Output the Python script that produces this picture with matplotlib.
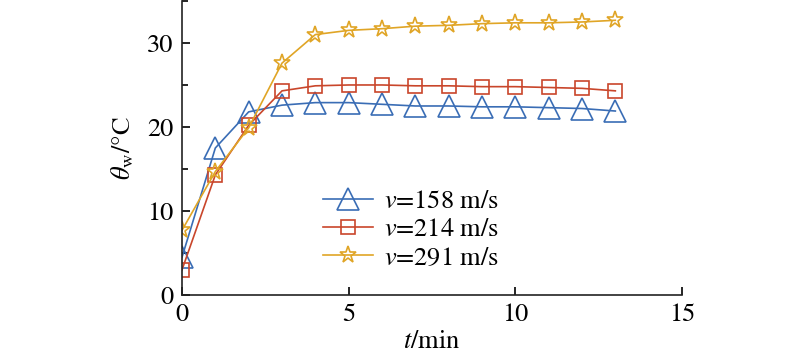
import matplotlib.pyplot as plt
from matplotlib.ticker import MultipleLocator

plt.rcParams['font.family'] = ['STIXGeneral', 'DejaVu Serif']
plt.rcParams['mathtext.fontset'] = 'stix'

# time in minutes
t_min = [0, 1, 2, 3, 4, 5, 6, 7, 8, 9, 10, 11, 12, 13]

# wall temperature for each airflow speed
theta_158 = [4.5, 17.5, 21.8, 22.6, 22.9, 22.9, 22.7, 22.5, 22.5, 22.4, 22.4, 22.3, 22.2, 21.9]
theta_214 = [3.0, 14.3, 20.2, 24.3, 24.9, 25.0, 25.0, 24.9, 24.9, 24.8, 24.8, 24.7, 24.6, 24.3]
theta_291 = [7.7, 14.7, 19.9, 27.6, 31.0, 31.5, 31.7, 32.0, 32.1, 32.3, 32.4, 32.4, 32.5, 32.7]

labels = ["$v$=158 m/s", "$v$=214 m/s", "$v$=291 m/s"]

fig = plt.figure(figsize=(8, 3.56), dpi=100)
ax = fig.add_axes([0.2275, 0.1713, 0.625, 0.826])

ax.plot(t_min, theta_158, color="#3a6db5", marker="^", markersize=15.5, mfc="none",
        mew=1.2, lw=1.2, label=labels[0])
ax.plot(t_min, theta_214, color="#c9462b", marker="s", markersize=10, mfc="none",
        mew=1.2, lw=1.2, label=labels[1])
ax.plot(t_min, theta_291, color="#e0a526", marker="*", markersize=12.5, mfc="none",
        mew=1.2, lw=1.2, label=labels[2])

ax.set_xlim(0, 15)
ax.set_ylim(0, 35)
ax.xaxis.set_major_locator(MultipleLocator(5))
ax.yaxis.set_major_locator(MultipleLocator(10))
ax.yaxis.set_minor_locator(MultipleLocator(5))
ax.tick_params(direction="in", labelsize=19, length=6, width=1.2, pad=6)
ax.tick_params(which="minor", direction="in", length=4, width=1.2)
ax.tick_params(axis="x", pad=6)

for side in ["top", "right"]:
    ax.spines[side].set_visible(False)
for side in ["left", "bottom"]:
    ax.spines[side].set_linewidth(1.2)
    ax.spines[side].set_color("#222222")

ax.set_xlabel("$t$/min", fontsize=19, labelpad=2)
ax.set_ylabel(r"$\theta_{\mathrm{w}}$/°C", fontsize=19, labelpad=8)

ax.legend(loc="center left", bbox_to_anchor=(0.282, 0.221), frameon=False, fontsize=19,
          handlelength=1.9, handletextpad=0.4, labelspacing=0.15, borderpad=0,
          borderaxespad=0)

plt.savefig("out.png", dpi=100)
